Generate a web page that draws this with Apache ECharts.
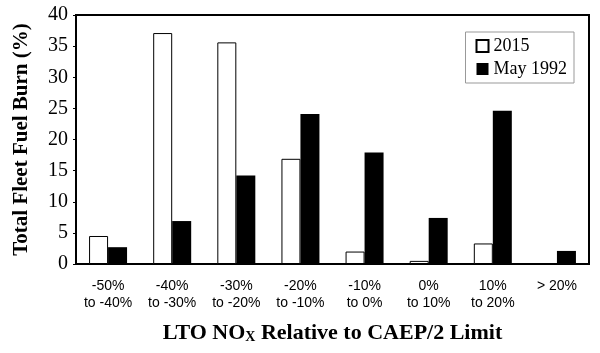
<!DOCTYPE html>
<html lang="en">
<head>
<meta charset="UTF-8">
<title>LTO NOx relative to CAEP/2 limit</title>
<script src="https://cdn.jsdelivr.net/npm/echarts@6/dist/echarts.min.js"></script>
<style>
  html, body { margin: 0; padding: 0; background: #fff; }
  #chart { width: 600px; height: 353px; }
</style>
</head>
<body>
<div id="chart"></div>
<script>
// NOx bands (two-line tick labels)
var bands = ['-50%\nto -40%', '-40%\nto -30%', '-30%\nto -20%', '-20%\nto -10%',
             '-10%\nto 0%', '0%\nto 10%', '10%\nto 20%', '> 20%'];
// share of total fleet fuel burn, %
var fuel2015 = [4.5, 37.1, 35.6, 16.9, 2.0, 0.5, 3.3, 0.15];
var fuel1992 = [2.7, 6.9, 14.2, 24.1, 17.9, 7.4, 24.6, 2.1];
var yTicks = [0, 5, 10, 15, 20, 25, 30, 35, 40];

var chart = echarts.init(document.getElementById('chart'));
var serif = '"Liberation Serif", "Times New Roman", serif';

chart.setOption({
  animation: false,
  grid: {
    left: 76, right: 11, top: 15, bottom: 89,
    show: true, borderColor: '#000', borderWidth: 2
  },
  legend: {
    orient: 'vertical',
    right: 26, top: 32,
    padding: [5, 7, 5, 10],
    itemGap: 5,
    itemWidth: 12, itemHeight: 12,
    borderColor: '#999', borderWidth: 1,
    icon: 'rect',
    textStyle: { fontFamily: serif, fontSize: 18, color: '#000' },
    data: ['2015', 'May 1992']
  },
  xAxis: {
    type: 'category',
    data: bands,
    axisLine: { lineStyle: { color: '#000', width: 2 } },
    axisTick: { inside: true, length: 4, lineStyle: { color: '#000', width: 2 } },
    axisLabel: {
      interval: 0, margin: 14, color: '#000',
      fontFamily: '"Liberation Sans", Arial, sans-serif', fontSize: 14, lineHeight: 17
    },
    name: '{b|LTO NO}{s|X}{b| Relative to CAEP/2 Limit}',
    nameLocation: 'middle',
    nameGap: 58,
    nameTextStyle: {
      rich: {
        b: { fontFamily: serif, fontWeight: 'bold', fontSize: 22, color: '#000' },
        s: { fontFamily: serif, fontWeight: 'bold', fontSize: 14, color: '#000', verticalAlign: 'bottom', padding: [8, 0, 0, 0] }
      }
    }
  },
  yAxis: {
    type: 'value',
    min: yTicks[0], max: yTicks[yTicks.length - 1], interval: 5,
    splitLine: { show: false },
    axisLine: { show: true, lineStyle: { color: '#000', width: 2 } },
    axisTick: { show: true, length: 3, lineStyle: { color: '#000', width: 1 } },
    axisLabel: { margin: 8, color: '#000', fontFamily: serif, fontSize: 20 },
    name: 'Total Fleet Fuel Burn (%)',
    nameLocation: 'middle',
    nameGap: 44,
    nameTextStyle: { fontFamily: serif, fontWeight: 'bold', fontSize: 21, color: '#000' }
  },
  series: [
    {
      name: '2015', type: 'bar', data: fuel2015,
      barWidth: 19, barGap: '0%',
      itemStyle: { color: '#fff', borderColor: '#000', borderWidth: 1 }
    },
    {
      name: 'May 1992', type: 'bar', data: fuel1992,
      barWidth: 19,
      itemStyle: { color: '#000' }
    }
  ]
});
</script>
</body>
</html>
